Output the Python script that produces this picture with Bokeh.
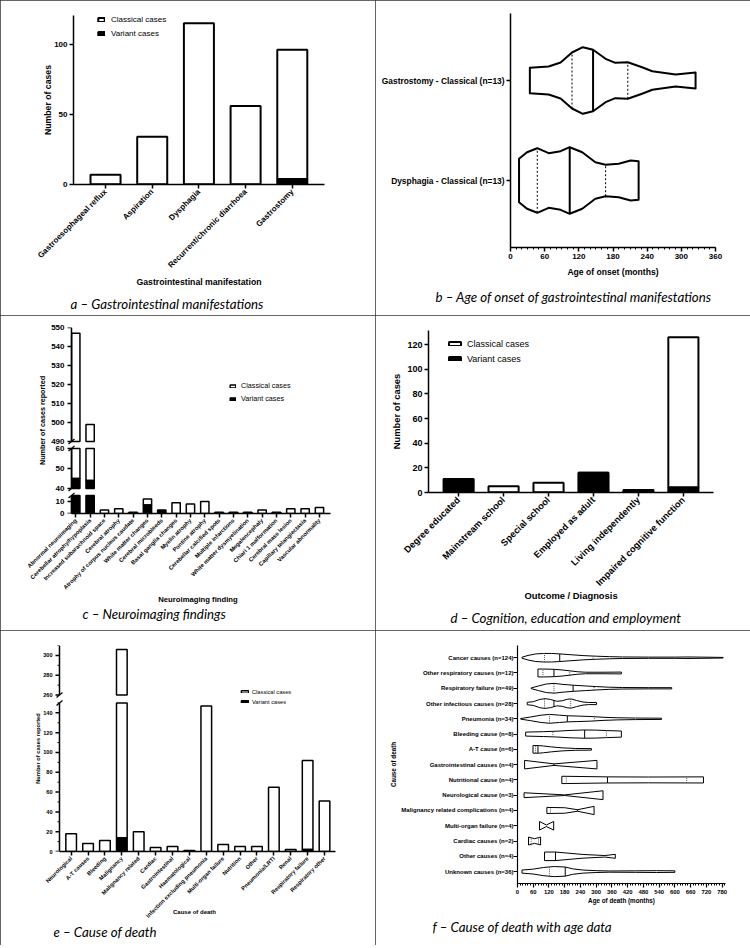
import math
import numpy as np
from bokeh.plotting import figure
from bokeh.models import Range1d, FixedTicker, Legend, LegendItem, Title
from bokeh.embed import file_html
from bokeh.resources import INLINE

FONT = "Liberation Sans"
CAPFONT = "Lato"
PW, PH = 375, 315

# ---------------- data ----------------
# a - gastrointestinal manifestations
gi_labels = ["Gastroesophageal reflux", "Aspiration", "Dysphagia",
             "Recurrent/chronic diarrhoea", "Gastrostomy"]
gi_classical = [7, 34, 115, 56, 92]
gi_variant = [0, 0, 0, 0, 4]
gi_ticks = [0, 50, 100]

# b - age of onset of GI manifestations (violin outlines: age, half width)
onset_labels = ["Dysphagia - Classical (n=13)", "Gastrostomy - Classical (n=13)"]
onset_ages = [[15, 29, 47, 67, 88, 104, 126, 149, 167, 190, 211, 225],
              [34, 67, 88, 108, 127, 145, 167, 184, 206, 231, 249, 290, 325]]
onset_widths = [[0.217, 0.283, 0.323, 0.273, 0.293, 0.333, 0.283, 0.183, 0.157, 0.167, 0.2, 0.193],
                [0.127, 0.14, 0.18, 0.28, 0.333, 0.307, 0.217, 0.177, 0.183, 0.133, 0.093, 0.06, 0.08]]
onset_median = [104, 145]
onset_quartiles = [[47, 167], [108, 206]]
onset_ticks = [0, 60, 120, 180, 240, 300, 360]

# c - neuroimaging findings
neuro_labels = ["Abnormal neuroimaging", "Cerebellar atrophy/hypoplasia",
                "Increased subarachnoid space", "Cerebral atrophy",
                "Atrophy of corpus nucleus caudate", "White matter changes",
                "Cerebral microbleeds", "Basal ganglia changes", "Myelin atrophy",
                "Pontine atrophy", "Cerebellar calcified spots", "Multiple infarctions",
                "White matter dysmyelination", "Megalencephaly", "Chiari 1 malformation",
                "Cerebral mass lesion", "Capillary telangiectasia", "Vascular abnormality"]
neuro_classical = [502, 455, 3, 4, 1, 5, 0, 9, 8, 10, 1, 1, 1, 3, 1, 4, 4, 5]
neuro_variant = [45, 44, 0, 0, 0, 7, 3, 0, 0, 0, 0, 0, 0, 0, 0, 0, 0, 0]
neuro_segments = [(0, 15), (40, 60), (490, 550)]
neuro_ticks = [0, 10, 40, 50, 60, 490, 500, 510, 520, 530, 540, 550]

# d - cognition, education and employment
cog_labels = ["Degree educated", "Mainstream school", "Special school",
              "Employed as adult", "Living independently", "Impaired cognitive function"]
cog_classical = [0, 5, 8, 0, 0, 122]
cog_variant = [11, 0, 0, 16, 2, 4]
cog_ticks = [0, 20, 40, 60, 80, 100, 120]

# e - cause of death
death_labels = ["Neurological", "A-T causes", "Bleeding", "Malignancy",
                "Malignancy related", "Cardiac", "Gastrointestinal", "Haematological",
                "Infection excluding pneumonia", "Multi-organ failure", "Nutrition",
                "Other", "Pneumonia/LRTI", "Renal", "Respiratory failure",
                "Respiratory other"]
death_classical = [18, 8, 11, 292, 20, 4, 5, 1, 147, 7, 5, 5, 65, 2, 90, 51]
death_variant = [0, 0, 0, 14, 0, 0, 0, 0, 0, 0, 0, 0, 0, 0, 2, 0]
death_segments = [(0, 150), (260, 310)]
death_ticks = [0, 20, 40, 60, 80, 100, 120, 140, 260, 280, 300]
death_minor = [10, 30, 50, 70, 90, 110, 130, 150, 270, 290, 310]

# f - cause of death with age data (violin outlines: age, half width)
agedeath_labels = ["Cancer causes (n=124)", "Other respiratory causes (n=12)",
                   "Respiratory failure (n=49)", "Other infectious causes (n=28)",
                   "Pneumonia (n=34)", "Bleeding cause (n=8)", "A-T cause (n=6)",
                   "Gastrointestinal causes (n=4)", "Nutritional cause (n=4)",
                   "Neurological cause (n=3)", "Malignancy related complications (n=4)",
                   "Multi-organ failure (n=4)", "Cardiac causes (n=2)",
                   "Other causes (n=4)", "Unknown causes (n=36)"]
agedeath_ages = [
    [17, 40, 70, 100, 130, 160, 200, 250, 300, 350, 400, 500, 600, 650, 700, 784],
    [78, 100, 140, 170, 200, 230, 260, 330, 396],
    [52, 80, 110, 140, 170, 212, 260, 300, 350, 400, 500, 588],
    [37, 60, 85, 105, 125, 150, 170, 190, 205, 225, 250, 270, 301],
    [12, 50, 90, 122, 160, 190, 230, 280, 330, 380, 450, 549],
    [31, 100, 150, 200, 256, 300, 340, 396],
    [59, 80, 100, 130, 170, 220, 282],
    [27, 139, 303],
    [169, 343, 500, 709],
    [25, 180, 326],
    [112, 180, 229, 292],
    [84, 110, 138],
    [42, 65, 88],
    [103, 145, 250, 333, 373],
    [17, 60, 100, 140, 182, 210, 250, 300, 350, 450, 530, 600],
]
agedeath_widths = [
    [0.03, 0.15, 0.25, 0.28, 0.28, 0.25, 0.2, 0.14, 0.1, 0.07, 0.05, 0.04, 0.04, 0.05, 0.04, 0.02],
    [0.26, 0.26, 0.24, 0.2, 0.14, 0.08, 0.05, 0.05, 0.06],
    [0.02, 0.15, 0.28, 0.32, 0.26, 0.2, 0.15, 0.11, 0.07, 0.05, 0.04, 0.04],
    [0.08, 0.12, 0.27, 0.32, 0.27, 0.15, 0.18, 0.28, 0.3, 0.2, 0.1, 0.07, 0.07],
    [0.02, 0.12, 0.24, 0.29, 0.24, 0.2, 0.18, 0.15, 0.1, 0.07, 0.05, 0.04],
    [0.13, 0.16, 0.19, 0.24, 0.27, 0.26, 0.23, 0.2],
    [0.25, 0.25, 0.22, 0.16, 0.1, 0.06, 0.05],
    [0.28, 0.05, 0.28],
    [0.24, 0.2, 0.19, 0.2],
    [0.16, 0.02, 0.29],
    [0.2, 0.18, 0.05, 0.27],
    [0.28, 0.05, 0.28],
    [0.26, 0.15, 0.26],
    [0.28, 0.28, 0.12, 0.05, 0.13],
    [0.1, 0.16, 0.27, 0.33, 0.3, 0.18, 0.1, 0.06, 0.04, 0.05, 0.06, 0.05],
]
agedeath_median = [161, 139, 212, 139, 190, 256, 78, 139, 343, None, 229, None, None, 145, 182]
agedeath_quartiles = [[103, 288], [97, 199], [139, 292], [103, 203], [122, 294], [135, 339],
                      [69], [], [186, 645], [], [126], [], [52, 80], [], [122]]
agedeath_ticks = list(range(0, 781, 60))


# ---------------- helpers ----------------
def base_fig(xr, yr, left, fw, top, fh):
    p = figure(width=PW, height=PH, x_range=Range1d(*xr), y_range=Range1d(*yr),
               output_backend="svg", toolbar_location=None,
               min_border_left=left, min_border_right=PW - left - fw,
               min_border_top=top, min_border_bottom=PH - top - fh)
    p.outline_line_color = None
    p.grid.visible = False
    p.background_fill_color = "white"
    p.border_fill_color = "white"
    p.styles = {"outline": "1.2px solid #333", "outline-offset": "-1.2px"}
    return p


def style_axis(ax, fs, lfs, lw=1.5):
    ax.axis_line_width = lw
    ax.axis_line_color = "black"
    ax.major_tick_line_width = lw
    ax.major_tick_line_color = "black"
    ax.major_tick_out = 4
    ax.major_tick_in = 0
    ax.minor_tick_line_width = 1
    ax.minor_tick_line_color = "black"
    ax.minor_tick_out = 2
    ax.minor_tick_in = 0
    ax.major_label_text_font = FONT
    ax.major_label_text_font_size = f"{fs}px"
    ax.major_label_text_font_style = "bold"
    ax.major_label_text_color = "black"
    ax.major_label_standoff = 2
    ax.axis_label_text_font = FONT
    ax.axis_label_text_font_size = f"{lfs}px"
    ax.axis_label_text_font_style = "bold"
    ax.axis_label_text_color = "black"


def caption(p, text, offset, standoff, size=13.3):
    p.add_layout(Title(text=text, align="left", offset=offset, standoff=standoff,
                       text_font=CAPFONT, text_font_style="italic",
                       text_font_size=f"{size}px", text_color="black"), "below")


def add_legend(p, rw, rb, loc, fs, gw, gh, standoff, lh, spacing):
    lg = Legend(items=[LegendItem(label="Classical cases", renderers=[rw]),
                       LegendItem(label="Variant cases", renderers=[rb])],
                location=loc, orientation="vertical",
                border_line_color=None, background_fill_alpha=0,
                label_text_font=FONT, label_text_font_size=f"{fs}px",
                label_text_color="black",
                glyph_width=gw, glyph_height=gh, label_standoff=standoff,
                label_height=lh, spacing=spacing, padding=0, margin=0)
    p.add_layout(lg)


def stacked_bars(p, xs, classical, variant, width, lw):
    tops = [c + v for c, v in zip(classical, variant)]
    rw = p.vbar(x=xs, bottom=variant, top=tops, width=width,
                fill_color="white", line_color="black", line_width=lw)
    rb = p.vbar(x=xs, bottom=0, top=variant, width=width,
                fill_color="black", line_color="black", line_width=lw)
    return rw, rb


def make_map(segs, scales, bases):
    def f(v):
        for (lo, hi), s, b in zip(segs, scales, bases):
            if v <= hi + 1e-9:
                return int(round(b + (max(v, lo) - lo) * s))
        lo, hi = segs[-1]
        return int(round(bases[-1] + (v - lo) * scales[-1]))
    return f


def broken_bars(p, xs, bottoms, tops, segs, scales, bases, width, lw, fill):
    px, pb, pt = [], [], []
    for x, b, t in zip(xs, bottoms, tops):
        for (lo, hi), s, base in zip(segs, scales, bases):
            lo2, hi2 = max(b, lo), min(t, hi)
            if hi2 > lo2:
                px.append(x)
                pb.append(base + (lo2 - lo) * s)
                pt.append(base + (hi2 - lo) * s)
    return p.vbar(x=px, bottom=pb, top=pt, width=width, fill_color=fill,
                  line_color="black", line_width=lw)


def broken_axis(p, x_ax, unit_px, ymap, segs, major, minor, ypx):
    lows = [ymap(lo) for lo, hi in segs]
    highs = [ymap(hi) for lo, hi in segs]
    p.segment(x0=[x_ax] * len(segs), y0=lows, x1=[x_ax] * len(segs), y1=highs,
              line_color="black", line_width=1.5)
    mm = [ymap(v) for v in major]
    tl = 4 / unit_px
    p.segment(x0=[x_ax - tl] * len(mm), y0=mm, x1=[x_ax] * len(mm), y1=mm,
              line_color="black", line_width=1.5)
    if minor:
        mn = [ymap(v) for v in minor]
        p.segment(x0=[x_ax - tl / 2] * len(mn), y0=mn, x1=[x_ax] * len(mn), y1=mn,
                  line_color="black", line_width=1)
    ends = highs[:-1] + lows[1:]
    dx = 3 / unit_px
    dy = 2.5 / ypx
    p.segment(x0=[x_ax - dx] * len(ends), y0=[e - dy for e in ends],
              x1=[x_ax + dx] * len(ends), y1=[e + dy for e in ends],
              line_color="black", line_width=1.2)
    ax = p.yaxis[0]
    ax.ticker = FixedTicker(ticks=mm, minor_ticks=[])
    ax.major_label_overrides = {m: str(v) for m, v in zip(mm, major)}
    ax.axis_line_color = None
    ax.major_tick_line_color = None
    ax.minor_tick_line_color = None
    ax.major_tick_out = 0
    ax.major_label_standoff = 1


def violins(p, ages_list, widths_list, centers, medians, quarts, lw, qdash, qcolor):
    xs, ys = [], []
    for ages, ws, c in zip(ages_list, widths_list, centers):
        xs.append(list(ages) + list(ages[::-1]))
        ys.append([c + w for w in ws] + [c - w for w in ws[::-1]])
    p.patches(xs=xs, ys=ys, fill_color="white", line_color="black", line_width=lw,
              line_join="round")
    mx, my0, my1 = [], [], []
    qx, qy0, qy1 = [], [], []
    for ages, ws, c, m, qs in zip(ages_list, widths_list, centers, medians, quarts):
        if m is not None:
            h = float(np.interp(m, ages, ws))
            mx.append(m); my0.append(c - h); my1.append(c + h)
        for q in qs:
            h = float(np.interp(q, ages, ws))
            qx.append(q); qy0.append(c - h); qy1.append(c + h)
    p.segment(x0=mx, y0=my0, x1=mx, y1=my1, line_color="black", line_width=lw)
    p.segment(x0=qx, y0=qy0, x1=qx, y1=qy1, line_color=qcolor, line_width=1,
              line_dash=qdash)


# ---------------- panel a ----------------
pa = base_fig((-0.686, 4.69), (0, 120.5), 73, 251, 15, 169)
xa = list(range(len(gi_labels)))
rwa, rba = stacked_bars(pa, xa, gi_classical, gi_variant, 0.643, 2)
style_axis(pa.xaxis[0], 8, 8.7)
style_axis(pa.yaxis[0], 8, 8.7)
pa.xaxis.ticker = FixedTicker(ticks=xa)
pa.xaxis.major_label_overrides = dict(zip(xa, gi_labels))
pa.xaxis.major_label_orientation = math.pi / 4
pa.yaxis.ticker = FixedTicker(ticks=gi_ticks, minor_ticks=[])
pa.xaxis.axis_label = "Gastrointestinal manifestation"
pa.yaxis.axis_label = "Number of cases"
pa.xaxis.axis_label_standoff = 1
pa.yaxis.axis_label_standoff = -2
add_legend(pa, rwa, rba, (24, 146), 8, 8, 5, 6, 10, 4)
caption(pa, "a \u2013 Gastrointestinal manifestations", -3, 8)

# ---------------- panel b ----------------
pb = base_fig((0, 360), (-0.67, 1.67), 135, 205, 13, 234)
yb = list(range(len(onset_labels)))
violins(pb, onset_ages, onset_widths, yb, onset_median, onset_quartiles, 2, "2 2", "black")
style_axis(pb.xaxis[0], 8, 8.6)
style_axis(pb.yaxis[0], 8.4, 8.6)
pb.xaxis.ticker = FixedTicker(ticks=onset_ticks, minor_ticks=list(range(0, 361, 10)))
pb.yaxis.ticker = FixedTicker(ticks=yb, minor_ticks=[])
pb.yaxis.major_label_overrides = dict(zip(yb, onset_labels))
pb.xaxis.axis_label = "Age of onset (months)"
pb.xaxis.axis_label_standoff = 5
caption(pb, "b \u2013 Age of onset of gastrointestinal manifestations", -75, 14)

# ---------------- panel c ----------------
c_scales, c_bases = [1.2, 2.0, 1.9], [0, 25, 72]
cmap = make_map(neuro_segments, c_scales, c_bases)
c_unit = 14.35
pc = base_fig((-0.718, 17.77), (0, 186), 65, 265, 12, 186)
xc = list(range(len(neuro_labels)))
ctops = [a + b for a, b in zip(neuro_classical, neuro_variant)]
rwc = broken_bars(pc, xc, neuro_variant, ctops, neuro_segments, c_scales, c_bases, 0.58, 1.5, "white")
rbc = broken_bars(pc, xc, [0] * len(xc), neuro_variant, neuro_segments, c_scales, c_bases, 0.58, 1.5, "black")
style_axis(pc.xaxis[0], 5.8, 7.7)
style_axis(pc.yaxis[0], 8, 7.2)
broken_axis(pc, -0.3, c_unit, cmap, neuro_segments, neuro_ticks, [], 1.0)
pc.xaxis.ticker = FixedTicker(ticks=xc)
pc.xaxis.major_label_overrides = dict(zip(xc, neuro_labels))
pc.xaxis.major_label_orientation = math.pi / 4
pc.xaxis.bounds = (-0.3, 17.77)
pc.xaxis.axis_label = "Neuroimaging finding"
pc.yaxis.axis_label = "Number of cases reported"
pc.xaxis.axis_label_standoff = -1
pc.yaxis.axis_label_standoff = 1
add_legend(pc, rwc, rbc, (164, 110), 7.2, 7, 4, 5, 9, 4)
caption(pc, "c \u2013 Neuroimaging findings", 17, -5)

# ---------------- panel d ----------------
pd_ = base_fig((-0.67, 5.67), (0, 131.4), 53, 285, 15, 162)
xd = list(range(len(cog_labels)))
rwd, rbd = stacked_bars(pd_, xd, cog_classical, cog_variant, 0.67, 2)
style_axis(pd_.xaxis[0], 9.3, 9.4)
style_axis(pd_.yaxis[0], 9, 9.4)
pd_.xaxis.ticker = FixedTicker(ticks=xd)
pd_.xaxis.major_label_overrides = dict(zip(xd, cog_labels))
pd_.xaxis.major_label_orientation = math.pi / 4
pd_.yaxis.ticker = FixedTicker(ticks=cog_ticks, minor_ticks=[])
pd_.xaxis.axis_label = "Outcome / Diagnosis"
pd_.yaxis.axis_label = "Number of cases"
pd_.xaxis.axis_label_standoff = -4
pd_.yaxis.axis_label_standoff = 2
add_legend(pd_, rwd, rbd, (19, 128), 9, 15, 5, 5, 11, 4)
caption(pd_, "d \u2013 Cognition, education and employment", 22, 6)

# ---------------- panel e ----------------
e_scales, e_bases = [1.0, 1.0], [0, 158]
emap = make_map(death_segments, e_scales, e_bases)
e_unit = 16.9
pe = base_fig((-1.045, 15.65), (0, 208), 53, 282, 15, 206)
xe = list(range(len(death_labels)))
etops = [a + b for a, b in zip(death_classical, death_variant)]
rwe = broken_bars(pe, xe, death_variant, etops, death_segments, e_scales, e_bases, 0.63, 1.5, "white")
rbe = broken_bars(pe, xe, [0] * len(xe), death_variant, death_segments, e_scales, e_bases, 0.63, 1.5, "black")
style_axis(pe.xaxis[0], 5.7, 6)
style_axis(pe.yaxis[0], 5.6, 5.7)
broken_axis(pe, -0.69, e_unit, emap, death_segments, death_ticks, death_minor, 206 / 208)
pe.xaxis.ticker = FixedTicker(ticks=xe)
pe.xaxis.major_label_overrides = dict(zip(xe, death_labels))
pe.xaxis.major_label_orientation = math.pi / 4
pe.xaxis.bounds = (-0.69, 15.65)
pe.xaxis.axis_label = "Cause of death"
pe.yaxis.axis_label = "Number of cases reported"
pe.xaxis.axis_label_standoff = -15
pe.yaxis.axis_label_standoff = -1
add_legend(pe, rwe, rbe, (187, 146), 5.7, 9, 3, 3, 7, 3)
caption(pe, "e \u2013 Cause of death", 0, 9)

# ---------------- panel f ----------------
pf = base_fig((0, 793), (-0.78, 14.8), 142, 208, 15, 239)
n_f = len(agedeath_labels)
yf = [n_f - 1 - i for i in range(n_f)]
violins(pf, agedeath_ages, agedeath_widths, yf, agedeath_median, agedeath_quartiles, 1, "1 1", "#555555")
style_axis(pf.xaxis[0], 5.9, 6.3, lw=1.2)
style_axis(pf.yaxis[0], 6.0, 6.3, lw=1.2)
pf.xaxis.ticker = FixedTicker(ticks=agedeath_ticks, minor_ticks=list(range(0, 791, 10)))
pf.yaxis.ticker = FixedTicker(ticks=yf, minor_ticks=[])
pf.yaxis.major_label_overrides = dict(zip(yf, agedeath_labels))
pf.yaxis.major_label_standoff = 0
pf.xaxis.axis_label = "Age of death (months)"
pf.yaxis.axis_label = "Cause of death"
pf.xaxis.axis_label_standoff = 0
pf.yaxis.axis_label_standoff = 1
caption(pf, "f \u2013 Cause of death with age data", -85, 21)

TEMPLATE = """
{% block postamble %}
<style>
  body { display: grid !important; grid-template-columns: 375px 375px; grid-auto-rows: 315px; }
</style>
{% endblock %}
"""

open("out.html", "w").write(file_html([pa, pb, pc, pd_, pe, pf], INLINE, template=TEMPLATE))
